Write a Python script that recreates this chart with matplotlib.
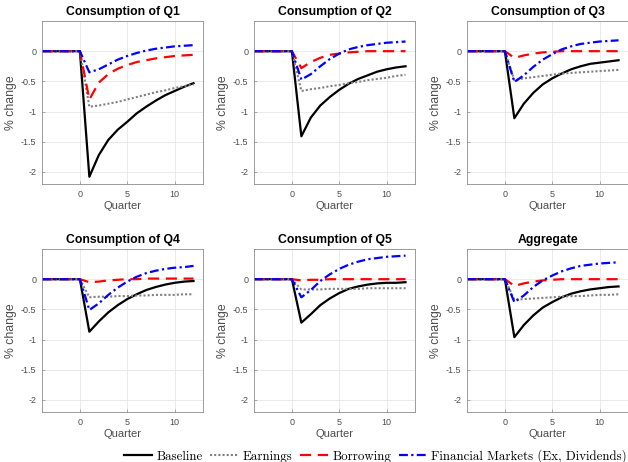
import numpy as np
import matplotlib
matplotlib.use('Agg')
import matplotlib.pyplot as plt

plt.rcParams['font.family'] = ['Liberation Sans', 'DejaVu Sans']

quarters = list(range(-4, 13))
pre = [0, 0, 0, 0, 0]

titles = ['Consumption of Q1', 'Consumption of Q2', 'Consumption of Q3',
          'Consumption of Q4', 'Consumption of Q5', 'Aggregate']

# values for quarters 1..12 (before that all zero)
baseline = [
    [-2.08, -1.72, -1.47, -1.30, -1.17, -1.03, -0.92, -0.82, -0.73, -0.66, -0.59, -0.53],
    [-1.41, -1.10, -0.90, -0.76, -0.64, -0.54, -0.46, -0.40, -0.34, -0.30, -0.27, -0.25],
    [-1.11, -0.87, -0.69, -0.55, -0.45, -0.37, -0.30, -0.25, -0.21, -0.19, -0.17, -0.15],
    [-0.87, -0.70, -0.55, -0.43, -0.33, -0.25, -0.18, -0.13, -0.09, -0.06, -0.04, -0.03],
    [-0.72, -0.58, -0.43, -0.32, -0.23, -0.16, -0.12, -0.09, -0.07, -0.06, -0.06, -0.05],
    [-0.96, -0.76, -0.60, -0.47, -0.38, -0.30, -0.24, -0.20, -0.17, -0.15, -0.13, -0.12],
]
earnings = [
    [-0.92, -0.90, -0.87, -0.84, -0.80, -0.76, -0.72, -0.68, -0.65, -0.61, -0.58, -0.55],
    [-0.66, -0.63, -0.61, -0.58, -0.56, -0.53, -0.51, -0.48, -0.46, -0.44, -0.41, -0.39],
    [-0.48, -0.45, -0.43, -0.41, -0.39, -0.37, -0.36, -0.35, -0.34, -0.33, -0.32, -0.31],
    [-0.30, -0.29, -0.29, -0.28, -0.28, -0.27, -0.27, -0.26, -0.26, -0.26, -0.25, -0.25],
    [-0.17, -0.17, -0.17, -0.16, -0.16, -0.16, -0.16, -0.15, -0.15, -0.15, -0.15, -0.15],
    [-0.34, -0.33, -0.32, -0.31, -0.30, -0.29, -0.28, -0.28, -0.27, -0.26, -0.26, -0.25],
]
borrowing = [
    [-0.80, -0.52, -0.38, -0.29, -0.23, -0.18, -0.15, -0.12, -0.10, -0.08, -0.07, -0.06],
    [-0.28, -0.18, -0.11, -0.06, -0.04, -0.02, -0.01, 0.00, 0.00, 0.00, 0.00, 0.00],
    [-0.11, -0.07, -0.04, -0.02, -0.01, 0.00, 0.00, 0.00, 0.00, 0.00, 0.00, 0.00],
    [-0.05, -0.04, -0.02, -0.01, 0.00, 0.00, 0.01, 0.01, 0.01, 0.01, 0.01, 0.01],
    [-0.02, -0.01, -0.01, 0.00, 0.00, 0.00, 0.00, 0.00, 0.00, 0.00, 0.00, 0.00],
    [-0.11, -0.07, -0.04, -0.02, -0.01, 0.00, 0.00, 0.00, 0.00, 0.00, 0.00, 0.00],
]
fin_markets = [
    [-0.35, -0.30, -0.22, -0.14, -0.08, -0.03, 0.01, 0.04, 0.06, 0.08, 0.09, 0.10],
    [-0.47, -0.38, -0.25, -0.13, -0.04, 0.03, 0.07, 0.10, 0.12, 0.14, 0.15, 0.16],
    [-0.51, -0.40, -0.26, -0.14, -0.05, 0.03, 0.08, 0.12, 0.14, 0.16, 0.17, 0.18],
    [-0.51, -0.40, -0.26, -0.14, -0.04, 0.04, 0.10, 0.14, 0.17, 0.19, 0.20, 0.22],
    [-0.30, -0.18, -0.03, 0.08, 0.17, 0.24, 0.29, 0.33, 0.35, 0.37, 0.38, 0.39],
    [-0.38, -0.27, -0.13, -0.02, 0.06, 0.13, 0.18, 0.22, 0.24, 0.26, 0.27, 0.28],
]

fig = plt.figure(figsize=(6.28, 4.62), dpi=100)
W, H = 628, 462
lefts = [42, 254, 467]
tops = [21, 249]
aw, ah = 161, 163

lines = []
for i in range(6):
    r, c = divmod(i, 3)
    ax = fig.add_axes([lefts[c] / W, (H - tops[r] - ah) / H, aw / W, ah / H])
    l1, = ax.plot(quarters, pre + baseline[i], color='black', lw=1.6)
    l2, = ax.plot(quarters, pre + earnings[i], color='0.5', lw=1.5, ls=(0, (1, 1)))
    l3, = ax.plot(quarters, pre + borrowing[i], color='red', lw=1.6, ls=(0, (5, 3)))
    l4, = ax.plot(quarters, pre + fin_markets[i], color='blue', lw=1.6, ls=(0, (4, 1.5, 1, 1.5)))
    lines = [l1, l2, l3, l4]
    ax.set_xlim(-4, 13)
    ax.set_ylim(-2.2, 0.5)
    ax.set_xticks([0, 5, 10])
    ax.set_yticks([0, -0.5, -1, -1.5, -2])
    ax.set_yticklabels(['0', '-0.5', '-1', '-1.5', '-2'])
    ax.grid(True, color='0.9', lw=0.6)
    ax.set_axisbelow(True)
    for s in ax.spines.values():
        s.set_color('0.55')
        s.set_linewidth(0.6)
    ax.tick_params(labelsize=6.5, colors='0.3', direction='in', length=2.5,
                   width=0.5, pad=4)
    ax.tick_params(color='0.55')
    ax.set_title(titles[i], fontsize=8.8, fontweight='bold', pad=4)
    ax.set_xlabel('Quarter', fontsize=8, color='0.3', labelpad=2)
    ax.set_ylabel('% change', fontsize=8.8, color='0.3', labelpad=3)

fig.legend(lines, ['Baseline', 'Earnings', 'Borrowing', 'Financial Markets (Ex, Dividends)'],
           loc='lower right', bbox_to_anchor=(1.0, -0.005), ncol=4, frameon=False,
           prop={'family': ['cmr10', 'DejaVu Serif'], 'size': 9.3}, handlelength=2.2,
           handletextpad=0.3, columnspacing=0.6, borderpad=0.1, borderaxespad=0.0)

fig.savefig('out.png', dpi=100)
